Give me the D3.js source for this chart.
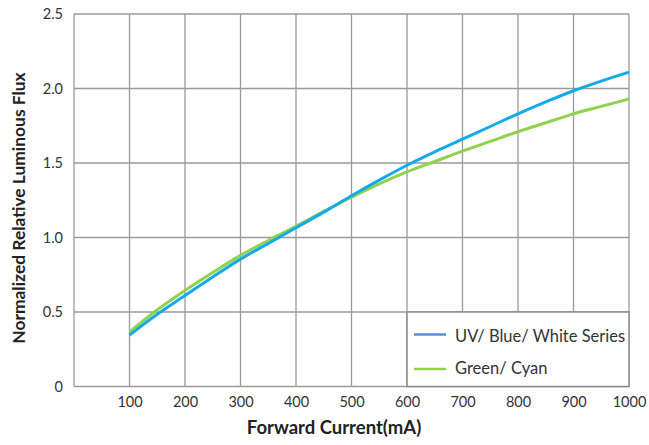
<!DOCTYPE html>
<html><head><meta charset="utf-8">
<script src="https://cdn.jsdelivr.net/npm/d3@7"></script>
<style>
body{margin:0;background:#fff;}
text{font-family:Lato, "Open Sans", sans-serif;}
</style></head>
<body><svg id="c" width="649" height="445"></svg>
<script>
const currents = [100,150,200,250,300,350,400,450,500,550,600,650,700,750,800,850,900,950,1000];
const blueSeries = [0.345,0.485,0.61,0.735,0.855,0.96,1.065,1.17,1.28,1.385,1.485,1.575,1.66,1.745,1.83,1.91,1.985,2.05,2.11];
const greenSeries = [0.365,0.515,0.645,0.765,0.88,0.98,1.075,1.175,1.27,1.36,1.44,1.51,1.58,1.645,1.71,1.77,1.83,1.88,1.93];
const xTicks = [100,200,300,400,500,600,700,800,900,1000];
const yTicks = [0,0.5,1.0,1.5,2.0,2.5];
const yTickLabels = ["0","0.5","1.0","1.5","2.0","2.5"];
const seriesNames = ["UV/ Blue/ White Series","Green/ Cyan"];

const svg = d3.select("#c");
const L=74, R=629, T=14, B=386.5;
const x = d3.scaleLinear().domain([0,1000]).range([L,R]);
const y = d3.scaleLinear().domain([0,2.5]).range([B,T]);
const grid="#9a9a9a";

const g = svg.append("g");
g.selectAll(".vg").data(xTicks).join("line")
 .attr("x1",d=>x(d)).attr("x2",d=>x(d)).attr("y1",T).attr("y2",B)
 .attr("stroke",grid).attr("stroke-width",1.3);
g.selectAll(".hg").data(yTicks).join("line")
 .attr("x1",L).attr("x2",R).attr("y1",d=>y(d)).attr("y2",d=>y(d))
 .attr("stroke",grid).attr("stroke-width",1.3);
g.append("line").attr("x1",L).attr("x2",L).attr("y1",T).attr("y2",B).attr("stroke",grid).attr("stroke-width",1.3);

const xAxis = svg.append("g").attr("transform",`translate(0,${B})`)
 .call(d3.axisBottom(x).tickValues(xTicks).tickSize(0).tickPadding(10).tickFormat(d3.format("d")));
xAxis.select(".domain").remove();
xAxis.selectAll("text").attr("font-size",14.5).attr("fill","#333").attr("font-family","Lato, sans-serif");

const yAxis = svg.append("g").attr("transform",`translate(${L},0)`)
 .call(d3.axisLeft(y).tickValues(yTicks).tickSize(0).tickPadding(11).tickFormat((d,i)=>yTickLabels[i]));
yAxis.select(".domain").remove();
yAxis.selectAll("text").attr("font-size",14.5).attr("fill","#333").attr("font-family","Lato, sans-serif");

const line = d3.line().x((d,i)=>x(currents[i])).y(d=>y(d)).curve(d3.curveCatmullRom);
svg.append("path").datum(greenSeries).attr("d",line).attr("fill","none").attr("stroke","#92d050").attr("stroke-width",3);
svg.append("path").datum(blueSeries).attr("d",line).attr("fill","none").attr("stroke","#14aaea").attr("stroke-width",3);

svg.append("text").attr("x",334).attr("y",434).attr("text-anchor","middle")
 .attr("font-size",18.5).attr("font-weight","bold").attr("fill","#222").text("Forward Current(mA)");
svg.append("text").attr("transform","translate(25,208) rotate(-90)").attr("text-anchor","middle")
 .attr("font-size",17.4).attr("font-weight","bold").attr("fill","#222").text("Normalized Relative Luminous Flux");

const lg = svg.append("g");
lg.append("rect").attr("x",407).attr("y",312).attr("width",R-407).attr("height",B-312)
 .attr("fill","#fff").attr("stroke","#8a8a8a").attr("stroke-width",1.5);
const legColors = ["#4f94dc","#92d050"];
const legY = [334.5,369];
const legBase = [341.5,373.5];
seriesNames.forEach((n,i)=>{
  lg.append("line").attr("x1",414).attr("x2",446).attr("y1",legY[i]).attr("y2",legY[i])
   .attr("stroke",legColors[i]).attr("stroke-width",2.5);
  lg.append("text").attr("x",455).attr("y",legBase[i]).attr("font-size",16.5).attr("fill","#333").text(n);
});
</script></body></html>
